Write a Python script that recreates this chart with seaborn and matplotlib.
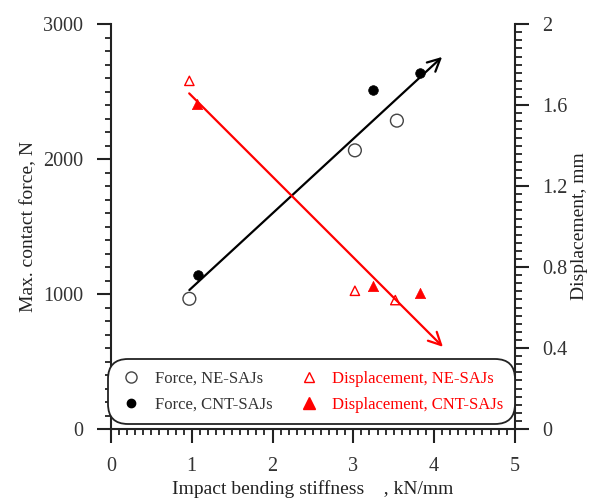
import numpy as np
import pandas as pd
import matplotlib
matplotlib.use("Agg")
import matplotlib.pyplot as plt
import seaborn as sns
from matplotlib.ticker import MultipleLocator
from matplotlib.lines import Line2D

# ---- data ----
stiff_force_ne = [0.97, 3.02, 3.54]
force_ne = [965, 2065, 2285]
stiff_force_cnt = [1.08, 3.24, 3.83]
force_cnt = [1145, 2510, 2640]

stiff_disp_ne = [0.97, 3.02, 3.52]
disp_ne = [1.72, 0.683, 0.637]
stiff_disp_cnt = [1.07, 3.25, 3.83]
disp_cnt = [1.605, 0.706, 0.673]

force_trend_x = [0.97, 4.10]
force_trend_y = [1030, 2757]
disp_trend_x = [0.968, 4.11]
disp_trend_y = [1.658, 0.406]

x_ticks = [0, 1, 2, 3, 4, 5]
force_ticks = [0, 1000, 2000, 3000]
disp_ticks = [0, 0.4, 0.8, 1.2, 1.6, 2]
disp_tick_labels = ["0", "0.4", "0.8", "1.2", "1.6", "2"]

labels = ["Force, NE-SAJs", "Force, CNT-SAJs",
          "Displacement, NE-SAJs", "Displacement, CNT-SAJs"]

sns.set_style("ticks")
plt.rcParams['font.family'] = ['Liberation Serif', 'DejaVu Serif']

RED = "#ff0000"

fig = plt.figure(figsize=(5.89, 5.03), dpi=100)
ax = fig.add_axes([0.1885, 0.147, 0.6855, 0.805])
ax2 = ax.twinx()

df_fne = pd.DataFrame({"x": stiff_force_ne, "y": force_ne})
df_fcnt = pd.DataFrame({"x": stiff_force_cnt, "y": force_cnt})
df_dne = pd.DataFrame({"x": stiff_disp_ne, "y": disp_ne})
df_dcnt = pd.DataFrame({"x": stiff_disp_cnt, "y": disp_cnt})

sns.scatterplot(data=df_fne, x="x", y="y", ax=ax, marker="o", s=85,
                facecolor="none", edgecolor="#444444", linewidth=1.0, zorder=4)
sns.scatterplot(data=df_fcnt, x="x", y="y", ax=ax, marker="o", s=48,
                color="black", edgecolor="black", linewidth=0.5, zorder=4)
sns.scatterplot(data=df_dne, x="x", y="y", ax=ax2, marker="^", s=45,
                facecolor="none", edgecolor=RED, linewidth=1.0, zorder=4)
sns.scatterplot(data=df_dcnt, x="x", y="y", ax=ax2, marker="^", s=55,
                color=RED, edgecolor=RED, linewidth=0.5, zorder=4)

# trend arrows
ax.annotate("", xy=(force_trend_x[1], force_trend_y[1]),
            xytext=(force_trend_x[0], force_trend_y[0]),
            arrowprops=dict(arrowstyle="->,head_length=0.9,head_width=0.45",
                            color="black", lw=1.6, shrinkA=0, shrinkB=0))
ax2.annotate("", xy=(disp_trend_x[1], disp_trend_y[1]),
             xytext=(disp_trend_x[0], disp_trend_y[0]),
             arrowprops=dict(arrowstyle="->,head_length=0.9,head_width=0.45",
                             color=RED, lw=1.6, shrinkA=0, shrinkB=0))

ax.set_xlim(0, 5)
ax.set_ylim(0, 3000)
ax2.set_ylim(0, 2)
ax.set_xticks(x_ticks)
ax.set_yticks(force_ticks)
ax2.set_yticks(disp_ticks)
ax2.set_yticklabels(disp_tick_labels)
ax.xaxis.set_minor_locator(MultipleLocator(0.1))
ax.yaxis.set_minor_locator(MultipleLocator(100))
ax2.yaxis.set_minor_locator(MultipleLocator(0.04))

for a in (ax, ax2):
    for s in a.spines.values():
        s.set_linewidth(1.5)
        s.set_color("#222222")
    a.spines['top'].set_visible(False)
ax.spines['right'].set_visible(False)
ax2.spines['left'].set_visible(False)
ax2.spines['bottom'].set_visible(False)

ax.tick_params(axis='both', which='major', direction='out', length=10, width=1.5,
               labelsize=14.5, pad=10, colors="#222222", labelcolor="#333333")
ax.tick_params(axis='both', which='minor', direction='out', length=4.5, width=1.3,
               colors="#222222")
ax2.tick_params(axis='y', which='major', direction='out', length=10, width=1.5,
                labelsize=14.5, pad=10, colors="#222222", labelcolor="#333333")
ax2.tick_params(axis='y', which='minor', direction='out', length=5, width=1.3,
                colors="#222222")

ax.set_xlabel("Impact bending stiffness    , kN/mm", fontsize=14, color="#222222",
              labelpad=3)
ax.set_ylabel("Max. contact force, N", fontsize=14, color="#222222", labelpad=4)
ax2.set_ylabel("Displacement, mm", fontsize=14, color="#222222", labelpad=2)

handles = [
    Line2D([], [], ls="none", marker="o", ms=8, mfc="none", mec="#444444", mew=1.0),
    Line2D([], [], ls="none", marker="o", ms=6, mfc="black", mec="black"),
    Line2D([], [], ls="none", marker="^", ms=7, mfc="none", mec=RED, mew=1.0),
    Line2D([], [], ls="none", marker="^", ms=8, mfc=RED, mec=RED),
]
leg = ax2.legend(handles, labels, ncol=2, loc="lower center",
                 bbox_to_anchor=(0.497, 0.016), fontsize=12, frameon=True,
                 fancybox=True, edgecolor="#222222", framealpha=1,
                 handletextpad=0.7, columnspacing=1.5, handlelength=1.4,
                 borderpad=0.6, labelspacing=0.6, borderaxespad=0)
leg.get_frame().set_linewidth(1.3)
leg.get_frame().set_boxstyle("round,pad=0.1,rounding_size=1.2")
for t, c in zip(leg.get_texts(), ["#333333", "#333333", RED, RED]):
    t.set_color(c)

fig.savefig("out.png", dpi=100)
